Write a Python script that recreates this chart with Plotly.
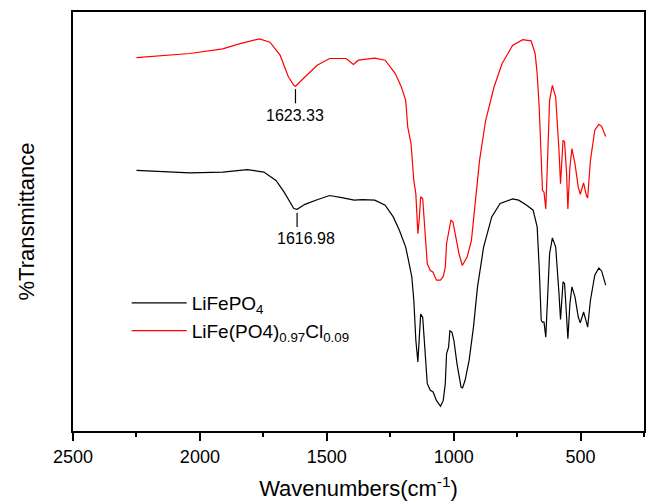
import plotly.graph_objects as go

# ---- data (wavenumber cm^-1, %T in arbitrary offset units) ----
wn_red = [2250, 2040, 1910, 1845, 1765, 1724, 1684, 1651, 1630, 1623, 1586, 1538, 1489, 1424, 1395,
          1376, 1311, 1270, 1230, 1206, 1189, 1181, 1168, 1157, 1149, 1141, 1136, 1130, 1122, 1114,
          1104, 1092, 1081, 1068, 1052, 1041, 1033, 1028, 1020, 1011, 1003, 995, 979, 966, 947,
          930, 914, 898, 874, 841, 809, 768, 728, 695, 679, 671, 663, 655, 650, 644, 637, 631,
          622, 611, 598, 585, 579, 569, 563, 555, 550, 542, 534, 522, 509, 501, 488, 477, 472,
          461, 444, 428, 417, 401]
t_red = [89.1, 90.1, 91.2, 92.4, 93.6, 92.8, 89.7, 84.5, 82.5, 82.3, 84.5, 87.3, 88.9, 88.9, 87.5,
         88.5, 89.0, 88.5, 85.3, 82.1, 78.9, 72.6, 68.6, 59.8, 56.6, 47.1, 50.3, 55.9, 55.4, 48.7,
         39.9, 38.3, 37.9, 36.0, 36.0, 36.9, 39.1, 44.7, 47.1, 50.3, 49.9, 47.1, 42.3, 39.5, 41.5,
         45.5, 55.1, 64.6, 74.1, 82.1, 87.7, 92.0, 93.4, 93.1, 90.1, 85.3, 77.3, 67.0, 57.4, 57.0,
         53.0, 63.0, 78.9, 82.5, 79.7, 67.0, 59.0, 69.4, 69.0, 61.4, 53.0, 63.0, 67.4, 63.8, 58.2,
         56.5, 59.2, 56.2, 55.6, 64.6, 71.8, 73.2, 72.7, 70.3]

wn_black = [2250, 2040, 1910, 1813, 1748, 1700, 1668, 1643, 1630, 1617, 1586, 1538, 1489, 1441, 1392,
            1360, 1311, 1270, 1238, 1214, 1189, 1178, 1165, 1157, 1149, 1141, 1136, 1130, 1122, 1114,
            1104, 1092, 1081, 1068, 1052, 1041, 1033, 1028, 1020, 1015, 1007, 999, 987, 971, 965,
            955, 939, 922, 906, 882, 850, 817, 768, 744, 712, 687, 671, 663, 655, 650, 644, 637,
            631, 622, 611, 598, 585, 579, 569, 563, 555, 550, 542, 534, 522, 509, 501, 488, 477,
            472, 461, 444, 428, 417, 401]
t_black = [62.2, 61.6, 61.8, 62.4, 61.8, 59.8, 57.0, 54.3, 53.1, 52.9, 54.1, 55.2, 56.2, 55.7, 55.1,
           55.2, 55.1, 53.9, 51.1, 47.9, 43.9, 40.7, 36.8, 31.2, 21.6, 16.5, 20.8, 27.9, 27.1, 20.0,
           11.3, 9.7, 9.3, 7.3, 5.9, 7.3, 11.3, 18.5, 20.0, 23.9, 23.6, 21.6, 16.1, 10.5, 10.3,
           12.1, 16.9, 24.8, 34.4, 43.9, 51.1, 54.3, 55.4, 55.1, 53.9, 52.7, 48.7, 39.1, 26.4, 26.0,
           26.0, 22.4, 31.2, 42.3, 46.1, 43.9, 32.8, 26.6, 35.6, 35.2, 27.2, 22.0, 30.4, 34.4, 32.0,
           27.2, 25.8, 28.4, 26.0, 24.8, 31.2, 37.2, 38.9, 38.2, 34.8]

series_names = ["LiFePO<sub>4</sub>", "LiFe(PO4)<sub>0.97</sub>Cl<sub>0.09</sub>"]
peak_wn = [1623.33, 1616.98]
peak_t = [81.6, 52.1]
peak_text = ["1623.33", "1616.98"]
peak_xshift = [0, 9]

FONT = "Arial, Liberation Sans, Helvetica, sans-serif"

fig = go.Figure()
fig.add_trace(go.Scatter(x=wn_black, y=t_black, mode="lines", name=series_names[0],
                         legendgroup="a", line=dict(color="#000000", width=1.2)))
fig.add_trace(go.Scatter(x=wn_red, y=t_red, mode="lines", name=series_names[1],
                         legendgroup="b", line=dict(color="#ff0000", width=1.2)))

for w, t, txt, xs in zip(peak_wn, peak_t, peak_text, peak_xshift):
    fig.add_shape(type="line", x0=w, x1=w, y0=t, y1=t - 3.4,
                  line=dict(color="black", width=1.2), xref="x", yref="y")
    fig.add_annotation(x=w, y=t, text=txt, showarrow=False, yshift=-26, xshift=xs,
                       font=dict(family=FONT, size=16, color="black"))

fig.update_layout(
    width=648, height=503,
    margin=dict(l=73, r=2, t=12, b=72),
    paper_bgcolor="white", plot_bgcolor="white",
    font=dict(family=FONT, color="black"),
    showlegend=True,
    legend=dict(x=0.094, y=0.272, xanchor="left", yanchor="middle",
                bgcolor="rgba(0,0,0,0)", font=dict(family=FONT, size=19),
                itemwidth=55, tracegroupgap=0),
    xaxis=dict(range=[2500, 250], tick0=0, dtick=500, showgrid=False, zeroline=False,
               showline=True, linecolor="black", linewidth=2, mirror=True,
               ticks="outside", ticklen=8, tickwidth=1.5, tickcolor="black",
               tickfont=dict(family=FONT, size=18),
               minor=dict(dtick=250, ticks="outside", ticklen=4, tickwidth=1.5, tickcolor="black"),
               title=dict(text="Wavenumbers(cm<sup>-1</sup>)", font=dict(family=FONT, size=22),
                          standoff=15)),
    yaxis=dict(range=[0, 100], showgrid=False, zeroline=False, showticklabels=False,
               ticks="", showline=True, linecolor="black", linewidth=2, mirror=True,
               title=dict(text="%Transmittance", font=dict(family=FONT, size=22), standoff=30)),
)

fig.write_html("out.html")
